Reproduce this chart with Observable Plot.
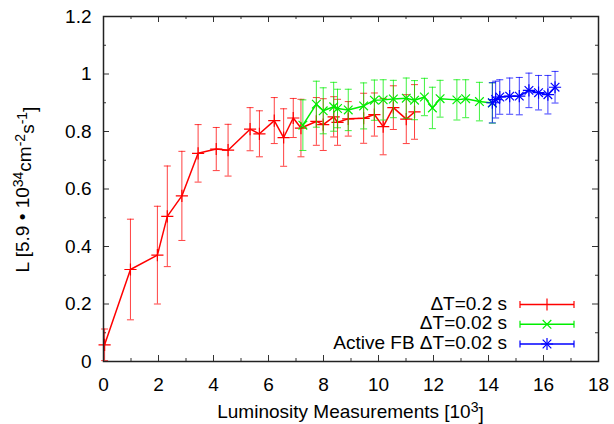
<!DOCTYPE html>
<html>
<head>
<meta charset="utf-8">
<script src="https://cdn.jsdelivr.net/npm/d3@7"></script>
<script src="https://cdn.jsdelivr.net/npm/@observablehq/plot@0.6"></script>
<style>
  html, body { margin: 0; padding: 0; background: #fff; }
  #chart svg { display: block; }
</style>
</head>
<body>
<div id="chart"></div>
<script>
// ---- data (x in 10^3 measurements, y in units of 5.9e34 cm^-2 s^-1) ----
const redX = [0.04, 0.98, 1.96, 2.32, 2.85, 3.44, 4.10, 4.53, 5.33, 5.67, 6.21, 6.55, 6.90, 7.18, 7.74, 7.99, 8.37, 8.51, 8.90, 9.46, 9.85, 10.17, 10.54, 11.01, 11.31];
const redY = [0.058, 0.32, 0.37, 0.505, 0.576, 0.724, 0.739, 0.735, 0.808, 0.792, 0.838, 0.779, 0.847, 0.812, 0.835, 0.824, 0.851, 0.832, 0.844, 0.846, 0.859, 0.817, 0.883, 0.843, 0.868];
const redErr = [0.055, 0.175, 0.17, 0.175, 0.155, 0.10, 0.075, 0.09, 0.075, 0.08, 0.08, 0.10, 0.068, 0.10, 0.083, 0.09, 0.07, 0.08, 0.06, 0.087, 0.075, 0.098, 0.076, 0.085, 0.095];

const greenX = [7.25, 7.74, 7.99, 8.37, 8.51, 8.90, 9.46, 9.85, 10.17, 10.54, 11.01, 11.31, 11.67, 11.96, 12.24, 12.85, 13.17, 13.67, 14.14];
const greenY = [0.822, 0.895, 0.872, 0.886, 0.88, 0.875, 0.889, 0.909, 0.91, 0.913, 0.916, 0.909, 0.92, 0.882, 0.914, 0.91, 0.914, 0.904, 0.899];
const greenErr = [0.088, 0.08, 0.08, 0.085, 0.067, 0.072, 0.08, 0.07, 0.07, 0.065, 0.07, 0.068, 0.065, 0.072, 0.064, 0.07, 0.066, 0.067, 0.07];

const blueX = [14.14, 14.26, 14.41, 14.77, 15.12, 15.47, 15.82, 16.16, 16.42];
const blueY = [0.90, 0.911, 0.92, 0.923, 0.923, 0.943, 0.935, 0.928, 0.954];
const blueErr = [0.07, 0.064, 0.06, 0.063, 0.065, 0.06, 0.06, 0.067, 0.055];

const seriesNames = ["\u0394T=0.2 s", "\u0394T=0.02 s", "Active FB \u0394T=0.02 s"];
const seriesColors = ["#ff0000", "#00ee00", "#0000ff"];

const xTicks = [0, 2, 4, 6, 8, 10, 12, 14, 16, 18];
const xMinor = [1, 3, 5, 7, 9, 11, 13, 15, 17];
const yTicks = [0, 0.2, 0.4, 0.6, 0.8, 1.0, 1.2];
const yMinor = [0.1, 0.3, 0.5, 0.7, 0.9, 1.1];

// ---- build tables ----
const toRows = (xs, ys, es) => xs.map((x, i) => ({x, y: ys[i], e: es[i]}));
const red = toRows(redX, redY, redErr);
const green = toRows(greenX, greenY, greenErr);
const blue = toRows(blueX, blueY, blueErr);

const W = 614, H = 424;
const mL = 103, mR = 16, mT = 16, mB = 63;
const fw = W - mL - mR, fh = H - mT - mB;
const FONT = "'Liberation Sans', Arial, Helvetica, sans-serif";

const cap = {
  draw(ctx, size) {
    const w = Math.sqrt(size / Math.PI);
    ctx.moveTo(-w, 0); ctx.lineTo(w, 0);
  }
};

function series(data, color, symbols) {
  const marks = [
    Plot.ruleX(data, {x: "x", y1: d => d.y - d.e, y2: d => d.y + d.e, stroke: color, strokeWidth: 1, strokeOpacity: 0.75}),
    Plot.dot(data, {x: "x", y: d => d.y + d.e, symbol: cap, r: 3.5, stroke: color, fill: "none", strokeWidth: 1, strokeOpacity: 0.75}),
    Plot.dot(data, {x: "x", y: d => d.y - d.e, symbol: cap, r: 3.5, stroke: color, fill: "none", strokeWidth: 1, strokeOpacity: 0.75}),
    Plot.line(data, {x: "x", y: "y", stroke: color, strokeWidth: 1.5})
  ];
  for (const s of symbols) {
    marks.push(Plot.dot(data, {x: "x", y: "y", symbol: s, r: 4, stroke: color, fill: "none", strokeWidth: 1.2}));
  }
  return marks;
}

const tickStroke = "#333";
const fmt = d => String(+d.toFixed(1));

const plot = Plot.plot({
  width: W, height: H,
  marginLeft: mL, marginRight: mR, marginTop: mT, marginBottom: mB,
  style: {fontFamily: FONT, fontSize: "19px", background: "white", color: "black"},
  x: {domain: [0, 18]},
  y: {domain: [0, 1.2]},
  marks: [
    // inward ticks on all four sides
    Plot.ruleX(xTicks, {x: d => d, insetTop: fh - 6, stroke: tickStroke}),
    Plot.ruleX(xTicks, {x: d => d, insetBottom: fh - 6, stroke: tickStroke}),
    Plot.ruleX(xMinor, {x: d => d, insetTop: fh - 3, stroke: tickStroke}),
    Plot.ruleX(xMinor, {x: d => d, insetBottom: fh - 3, stroke: tickStroke}),
    Plot.ruleY(yTicks, {y: d => d, insetRight: fw - 6, stroke: tickStroke}),
    Plot.ruleY(yTicks, {y: d => d, insetLeft: fw - 6, stroke: tickStroke}),
    Plot.ruleY(yMinor, {y: d => d, insetRight: fw - 3, stroke: tickStroke}),
    Plot.ruleY(yMinor, {y: d => d, insetLeft: fw - 3, stroke: tickStroke}),
    Plot.axisX(xTicks, {tickSize: 0, tickPadding: 16, fontSize: 19, label: null, tickFormat: fmt}),
    Plot.axisY(yTicks, {tickSize: 0, tickPadding: 12, fontSize: 19, label: null, tickFormat: fmt}),
    ...series(red, seriesColors[0], ["plus"]),
    ...series(green, seriesColors[1], ["times"]),
    ...series(blue, seriesColors[2], ["plus", "times"]),
    Plot.frame({stroke: "#222", strokeWidth: 1.5})
  ]
});

document.getElementById("chart").appendChild(plot);

// ---- axis titles and legend (real SVG text) ----
const svg = d3.select(plot);

const xl = svg.append("text")
  .attr("x", mL + fw / 2).attr("y", 418)
  .attr("text-anchor", "middle")
  .style("font-family", FONT).style("font-size", "19px").attr("fill", "black");
xl.append("tspan").text("Luminosity Measurements [10");
xl.append("tspan").attr("dy", "-0.45em").style("font-size", "14px").text("3");
xl.append("tspan").attr("dy", "0.45em").text("]");

const yl = svg.append("text")
  .attr("transform", `translate(29, ${mT + fh / 2 + 1}) rotate(-90)`)
  .attr("text-anchor", "middle")
  .style("font-family", FONT).style("font-size", "19px").attr("fill", "black");
yl.append("tspan").text("L [5.9 \u2022 10");
yl.append("tspan").attr("dy", "-0.45em").style("font-size", "14px").text("34");
yl.append("tspan").attr("dy", "0.45em").text("cm");
yl.append("tspan").attr("dy", "-0.45em").style("font-size", "14px").text("-2");
yl.append("tspan").attr("dy", "0.45em").text("s");
yl.append("tspan").attr("dy", "-0.45em").style("font-size", "14px").text("-1");
yl.append("tspan").attr("dy", "0.45em").text("]");

const legendSymbols = [["plus"], ["times"], ["plus", "times"]];
const symMap = {plus: d3.symbolPlus, times: d3.symbolTimes};
const rowY = [304.5, 324.3, 344];
const lg = svg.append("g");
seriesNames.forEach((name, i) => {
  const y = rowY[i], c = seriesColors[i];
  lg.append("text").attr("x", 507).attr("y", y + 5).attr("text-anchor", "end")
    .style("font-family", FONT).style("font-size", "19px").attr("fill", "black").text(name);
  lg.append("line").attr("x1", 520).attr("x2", 574).attr("y1", y).attr("y2", y)
    .attr("stroke", c).attr("stroke-width", 1.5);
  for (const x of [520, 574]) {
    lg.append("line").attr("x1", x).attr("x2", x).attr("y1", y - 3.5).attr("y2", y + 3.5)
      .attr("stroke", c).attr("stroke-width", 1.2);
  }
  for (const s of legendSymbols[i]) {
    lg.append("path").attr("d", d3.symbol(symMap[s], 16 * Math.PI)())
      .attr("transform", `translate(547, ${y})`)
      .attr("stroke", c).attr("fill", "none").attr("stroke-width", 1.2);
  }
});
</script>
</body>
</html>
